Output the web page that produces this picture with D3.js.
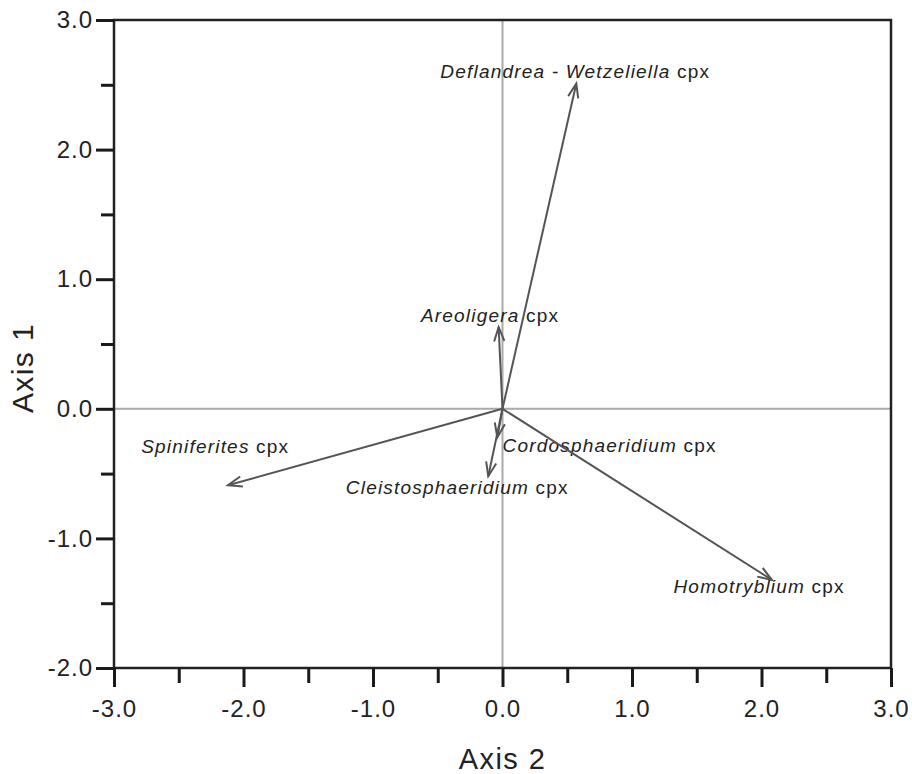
<!DOCTYPE html>
<html>
<head>
<meta charset="utf-8">
<script src="https://cdn.jsdelivr.net/npm/d3@7"></script>
<style>
  body { margin: 0; background: #fff; }
  text { font-family: "Liberation Sans", Arial, sans-serif; }
</style>
</head>
<body>
<script>
// taxa (italic name + " cpx")
var taxa = ["Deflandrea - Wetzeliella", "Areoligera", "Cordosphaeridium",
            "Cleistosphaeridium", "Spiniferites", "Homotryblium"];
// vector end points (axis 2, axis 1)
var axis2 = [0.57, -0.03, -0.04, -0.11, -2.12, 2.08];
var axis1 = [2.51, 0.63, -0.22, -0.52, -0.59, -1.32];
// label start points in chart units
var labelX = [-0.48, -0.63, 0.0, -1.21, -2.79, 1.32];
var labelY = [2.55, 0.67, -0.33, -0.66, -0.34, -1.42];

var xTicks = [-3, -2, -1, 0, 1, 2, 3];
var yTicks = [-2, -1, 0, 1, 2, 3];
var xMinorTicks = [-2.5, -1.5, -0.5, 0.5, 1.5, 2.5];
var yMinorTicks = [-1.5, -0.5, 0.5, 1.5, 2.5];

var width = 912;
var height = 774;
var margin = {top: 20, right: 21, bottom: 106, left: 114};

var svg = d3.select("body")
    .append("svg")
    .attr("width", width)
    .attr("height", height);

var x = d3.scaleLinear().domain([-3, 3]).range([margin.left, width - margin.right]);
var y = d3.scaleLinear().domain([-2, 3]).range([height - margin.bottom, margin.top]);

// zero lines
svg.append("line")
    .attr("x1", x(-3)).attr("x2", x(3))
    .attr("y1", y(0)).attr("y2", y(0))
    .attr("stroke", "#aaa").attr("stroke-width", 2);
svg.append("line")
    .attr("x1", x(0)).attr("x2", x(0))
    .attr("y1", y(-2)).attr("y2", y(3))
    .attr("stroke", "#aaa").attr("stroke-width", 2);

// frame
svg.append("rect")
    .attr("x", x(-3)).attr("y", y(3))
    .attr("width", x(3) - x(-3)).attr("height", y(-2) - y(3))
    .attr("fill", "none").attr("stroke", "#222").attr("stroke-width", 2.5);

// axes
var fmt = function(d) { return d3.format(".1f")(d).replace("\u2212", "-"); };
var xAxis = d3.axisBottom(x).tickValues(xTicks).tickSize(19).tickPadding(13).tickFormat(fmt);
var xMinor = d3.axisBottom(x).tickValues(xMinorTicks).tickSize(15).tickFormat("");
var yAxis = d3.axisLeft(y).tickValues(yTicks).tickSize(18).tickPadding(3).tickFormat(fmt);
var yMinor = d3.axisLeft(y).tickValues(yMinorTicks).tickSize(13).tickFormat("");

function styleAxis(g) {
    g.select(".domain").remove();
    g.selectAll(".tick line").attr("stroke", "#1a1a1a").attr("stroke-width", 3);
    g.selectAll(".tick text").attr("fill", "#222")
        .style("font-size", "24px")
        .style("letter-spacing", "1px");
}

svg.append("g").attr("transform", "translate(0," + y(-2) + ")").call(xAxis).call(styleAxis);
svg.append("g").attr("transform", "translate(0," + y(-2) + ")").call(xMinor).call(styleAxis);
svg.append("g").attr("transform", "translate(" + x(-3) + ",0)").call(yAxis).call(styleAxis);
svg.append("g").attr("transform", "translate(" + x(-3) + ",0)").call(yMinor).call(styleAxis);

// axis titles
svg.append("text")
    .attr("x", (x(-3) + x(3)) / 2)
    .attr("y", 769)
    .attr("text-anchor", "middle")
    .attr("fill", "#222")
    .style("font-size", "29px")
    .style("letter-spacing", "1.4px")
    .text("Axis 2");

svg.append("text")
    .attr("transform", "translate(33," + 368 + ") rotate(-90)")
    .attr("text-anchor", "middle")
    .attr("fill", "#222")
    .style("font-size", "30px")
    .style("letter-spacing", "1.4px")
    .text("Axis 1");

// vectors
var vectors = taxa.map(function(t, i) {
    return {name: t, ax2: axis2[i], ax1: axis1[i], lx: labelX[i], ly: labelY[i]};
});

var arrowColor = "#555";
var headLen = 15;
var headAngle = 20 * Math.PI / 180;

var vec = svg.selectAll(".vector")
    .data(vectors)
    .enter().append("g")
    .attr("class", "vector");

vec.append("line")
    .attr("x1", x(0)).attr("y1", y(0))
    .attr("x2", function(d) { return x(d.ax2); })
    .attr("y2", function(d) { return y(d.ax1); })
    .attr("stroke", arrowColor)
    .attr("stroke-width", 2);

vec.append("path")
    .attr("d", function(d) {
        var tx = x(d.ax2), ty = y(d.ax1);
        var a = Math.atan2(ty - y(0), tx - x(0));
        var p1 = [tx - headLen * Math.cos(a - headAngle), ty - headLen * Math.sin(a - headAngle)];
        var p2 = [tx - headLen * Math.cos(a + headAngle), ty - headLen * Math.sin(a + headAngle)];
        return "M" + p1[0] + "," + p1[1] + "L" + tx + "," + ty + "L" + p2[0] + "," + p2[1];
    })
    .attr("fill", "none")
    .attr("stroke", arrowColor)
    .attr("stroke-width", 2);

var label = vec.append("text")
    .attr("x", function(d) { return x(d.lx); })
    .attr("y", function(d) { return y(d.ly); })
    .attr("fill", "#222")
    .style("font-size", "19px")
    .style("letter-spacing", "1.2px");

label.append("tspan")
    .style("font-style", "italic")
    .text(function(d) { return d.name; });
label.append("tspan")
    .text(" cpx");
</script>
</body>
</html>
